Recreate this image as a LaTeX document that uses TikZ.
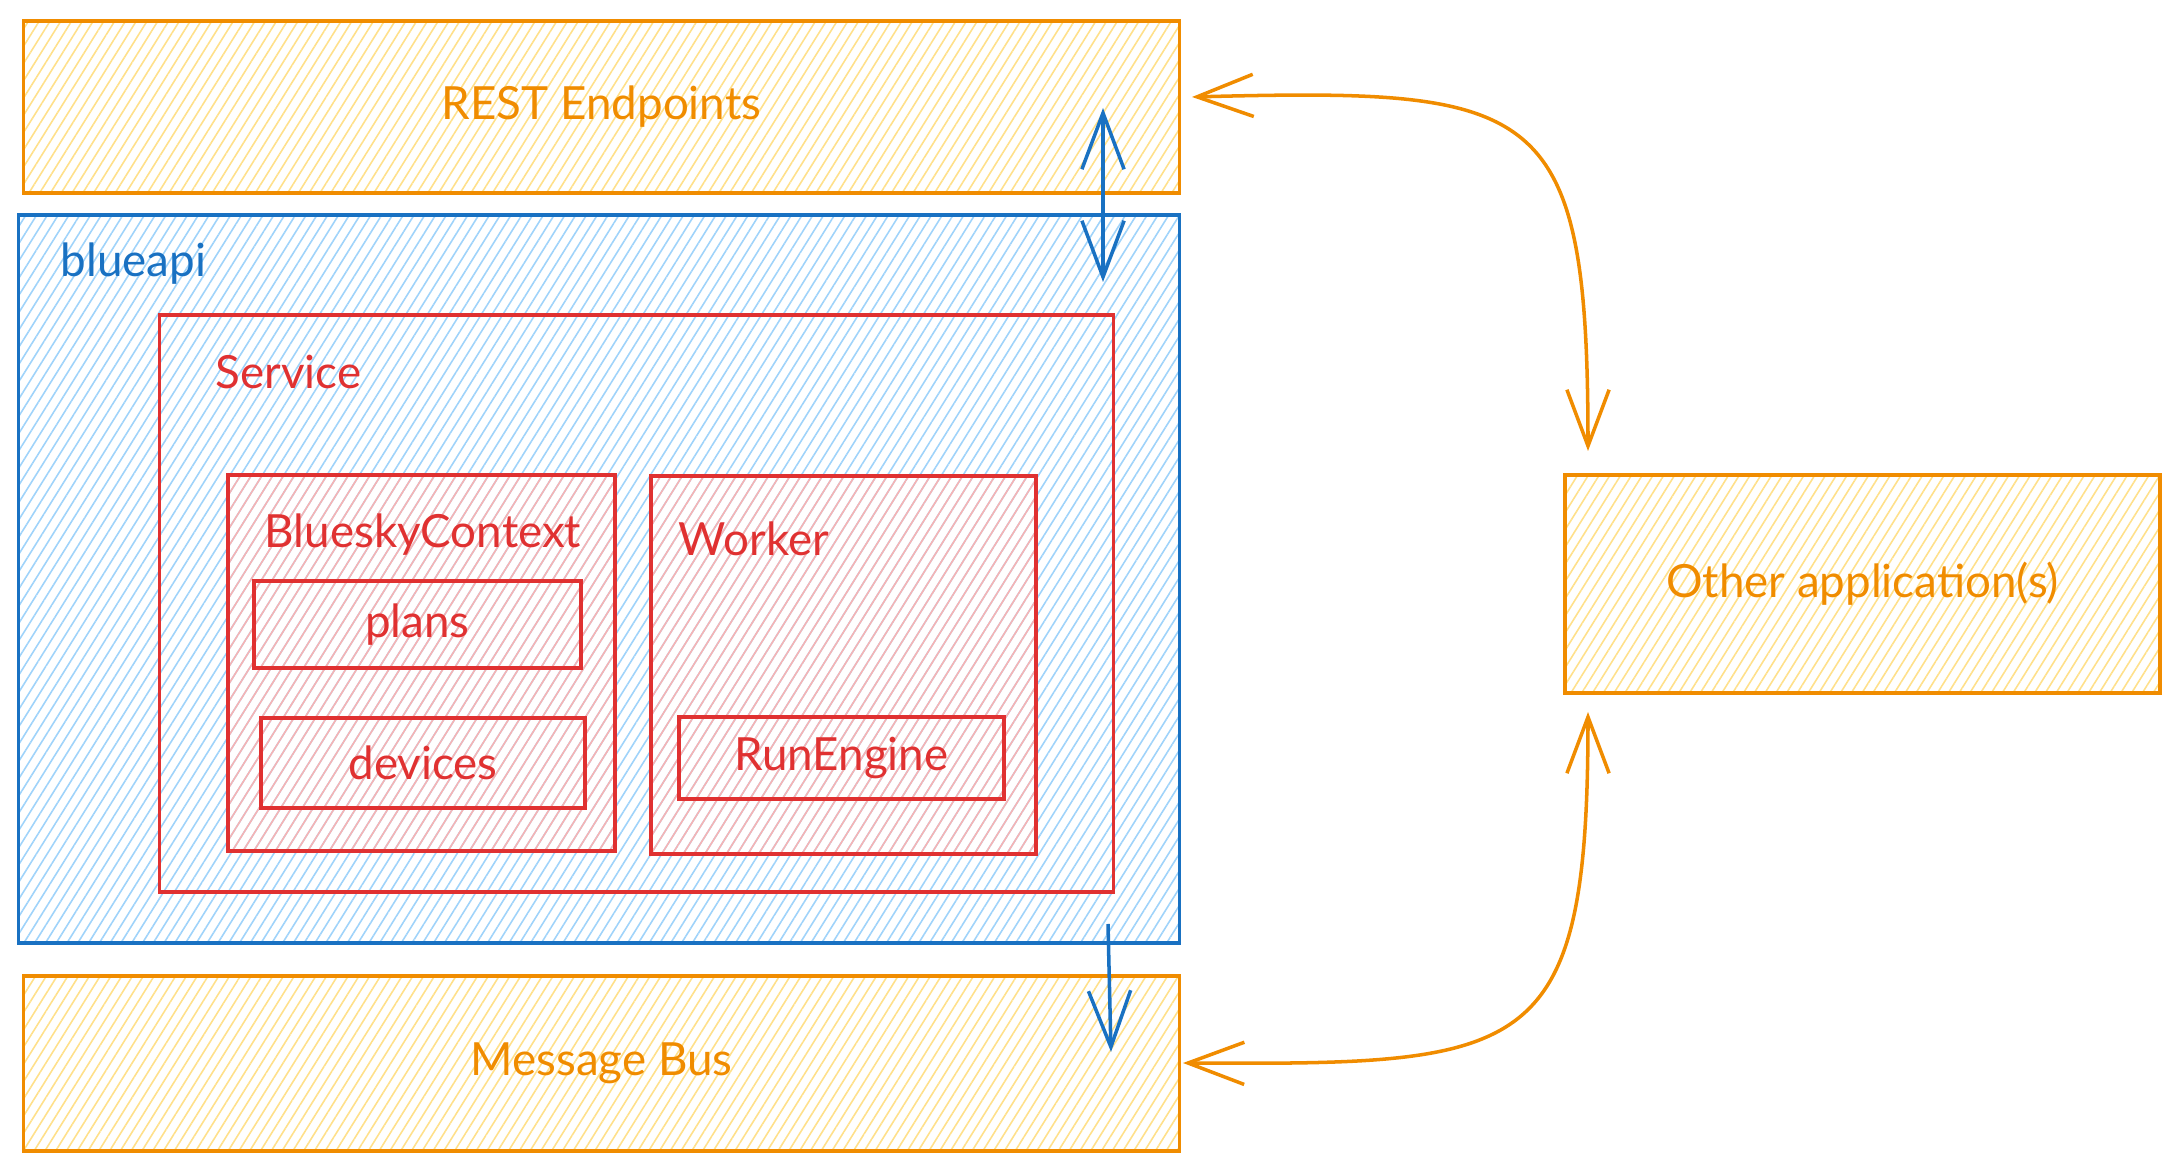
\documentclass[tikz,border=0pt]{standalone}
\usepackage{fontspec}
\setmainfont{Lato}
\usetikzlibrary{arrows.meta,patterns.meta}
\definecolor{orstroke}{HTML}{F08C00}
\definecolor{orfill}{HTML}{FFE08A}
\definecolor{blstroke}{HTML}{1971C2}
\definecolor{blfill}{HTML}{9FD3FA}
\definecolor{rdstroke}{HTML}{E03131}
\definecolor{rdfill}{HTML}{F7B3B3}
\begin{document}
\begin{tikzpicture}[x=0.01cm,y=-0.01cm,
  box/.style={draw, rectangle, inner sep=0pt, line width=1pt, font=\fontsize{13}{15}\selectfont},
  hatch/.style={pattern={Lines[angle=58,distance=2.6pt,line width=0.45pt]}, pattern color=#1},
  orbox/.style={box, draw=orstroke, text=orstroke, hatch=orfill},
  blbox/.style={box, draw=blstroke, hatch=blfill},
  rdbox/.style={box, draw=rdstroke, text=rdstroke},
  rdhbox/.style={rdbox, hatch=rdfill},
  lbl/.style={anchor=west, inner sep=0pt, font=\fontsize{13}{15}\selectfont},
  barb/.tip={Straight Barb[length=16pt,width=12pt]},
  orarrow/.style={draw=orstroke, line width=1pt, barb-barb},
  blarrow/.style={draw=blstroke, line width=1pt},
]
\useasboundingbox (0,0) rectangle (2178,1171);

% blueapi container
\node[blbox, minimum width=11.60cm, minimum height=7.28cm] (blueapi) at (599,579) {};
\node[lbl, text=blstroke] (blueapilbl) at (60,264) {blueapi};

% REST endpoints and message bus
\node[orbox, minimum width=11.55cm, minimum height=1.72cm] (rest) at (601.5,107) {REST Endpoints};
\node[orbox, minimum width=11.55cm, minimum height=1.75cm] (bus) at (601.5,1063.5) {Message Bus};

% other applications
\node[orbox, minimum width=5.95cm, minimum height=2.18cm] (other) at (1862.5,584) {Other application(s)};

% Service
\node[rdbox, minimum width=9.53cm, minimum height=5.77cm] (service) at (636.5,603.5) {};
\node[lbl, text=rdstroke] (servicelbl) at (215,372) {Service};

% BlueskyContext
\node[rdhbox, minimum width=3.87cm, minimum height=3.76cm] (ctx) at (421.5,663) {};
\node[lbl, text=rdstroke] (ctxlbl) at (264,535) {BlueskyContext};
\node[rdbox, minimum width=3.27cm, minimum height=0.87cm] (plans) at (417.5,624.5) {plans};
\node[rdbox, minimum width=3.24cm, minimum height=0.90cm] (devices) at (423,763) {devices};

% Worker
\node[rdhbox, minimum width=3.85cm, minimum height=3.78cm] (worker) at (843.5,665) {};
\node[lbl, text=rdstroke] (workerlbl) at (678,539) {Worker};
\node[rdbox, minimum width=3.25cm, minimum height=0.82cm] (runengine) at (841.5,758) {RunEngine};

% connector end points
\coordinate (restin) at (1103,108);
\coordinate (apiin) at (1103,282);
\coordinate (apiout) at (1108,924);
\coordinate (busin) at (1111,1052);
\coordinate (restside) at (1192,97);
\coordinate (othertop) at (1588,451);
\coordinate (busside) at (1183,1063);
\coordinate (otherbot) at (1588,712);

% blue arrows
\draw[blarrow, barb-barb] (restin) -- (apiin);
\draw[blarrow, -barb] (apiout) -- (busin);

% orange arrows
\draw[orarrow] (restside) .. controls (1540,88) and (1588,100) .. (othertop);
\draw[orarrow] (busside) .. controls (1530,1065) and (1588,1060) .. (otherbot);
\end{tikzpicture}
\end{document}
